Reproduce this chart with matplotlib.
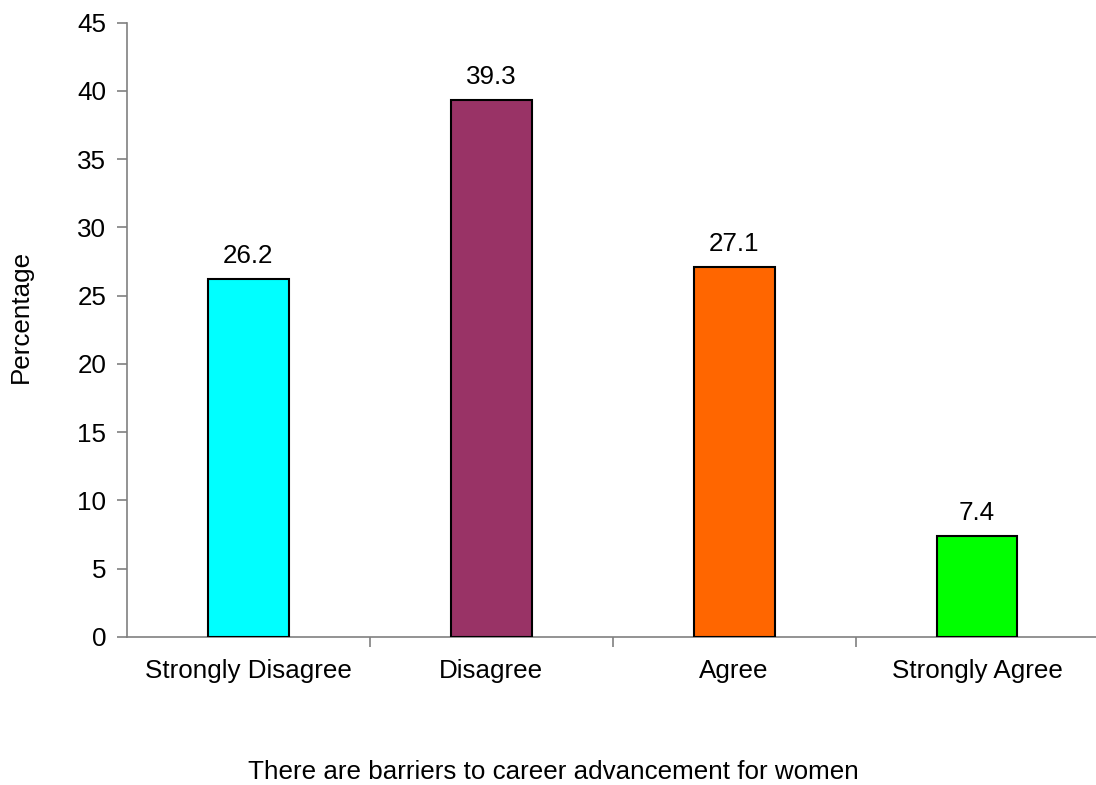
import matplotlib.pyplot as plt
import numpy as np

plt.rcParams['font.family'] = ['Liberation Sans', 'DejaVu Sans']

# survey responses
categories = ['Strongly Disagree', 'Disagree', 'Agree', 'Strongly Agree']
values = [26.2, 39.3, 27.1, 7.4]
colors = ['#00FFFF', '#993366', '#FF6600', '#00FF00']
yticks = [0, 5, 10, 15, 20, 25, 30, 35, 40, 45]

fs = 18.7

fig = plt.figure(figsize=(10.96, 7.85), dpi=100)
ax = fig.add_axes([127 / 1096, 1 - 637 / 785, 1 - 127 / 1096, (637 - 22.5) / 785])

x = np.arange(len(categories))
bars = ax.bar(x, values, width=0.333, color=colors, edgecolor='black', linewidth=1.5, zorder=3)
for xi, v in zip(x, values):
    ax.text(xi, v + 0.8, '{:.1f}'.format(v), ha='center', va='bottom', fontsize=fs)

ax.set_xlim(-0.5, 3.49)
ax.set_ylim(0, 45)
ax.set_yticks(yticks)
ax.set_xticks(x)
ax.set_xticklabels(categories)
ax.set_xticks(np.arange(0.5, 3, 1), minor=True)
ax.tick_params(axis='x', which='major', length=0, pad=16, labelsize=fs)
ax.tick_params(axis='x', which='minor', length=7, color='#808080', width=1.2)
ax.tick_params(axis='y', length=7, color='#808080', width=1.2, labelsize=fs, pad=8)

for side in ['top', 'right']:
    ax.spines[side].set_visible(False)
for side in ['left', 'bottom']:
    ax.spines[side].set_color('#808080')
    ax.spines[side].set_linewidth(1.2)

ax.set_ylabel('Percentage', fontsize=fs)
ax.yaxis.set_label_coords(-0.097, 0.522)
fig.text(553 / 1096, 1 - 772 / 785, 'There are barriers to career advancement for women',
         ha='center', va='center', fontsize=fs)

plt.savefig('out.png', dpi=100)
